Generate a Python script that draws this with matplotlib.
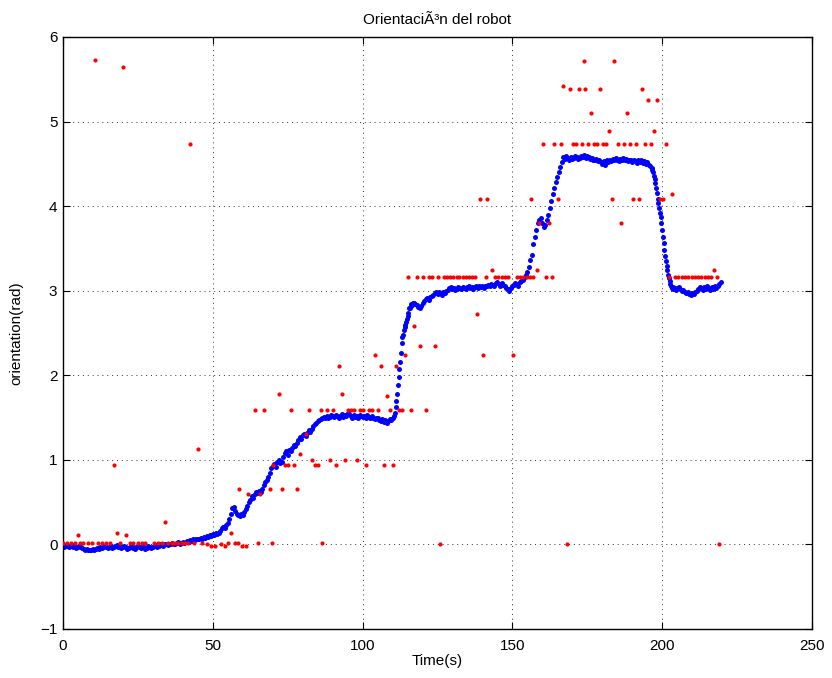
import numpy as np
import matplotlib
matplotlib.use("Agg")
import matplotlib.pyplot as plt

# ---- estimated orientation (filtered), sampled on a regular clock ----
t_est = np.concatenate([
    np.arange(0.0, 110.51, 0.5),
    np.arange(110.75, 117.01, 0.25),
    np.arange(117.5, 196.51, 0.5),
    np.arange(196.75, 204.01, 0.25),
    np.arange(204.5, 219.51, 0.5),
])
theta_est = [
    # 0 - 5
    -0.02, -0.03, -0.01, -0.02, -0.03, -0.02, -0.01, -0.03, -0.02, -0.04, -0.03,
    -0.02, -0.03, -0.04, -0.05, -0.06, -0.05, -0.07, -0.06, -0.07, -0.05,
    -0.06, -0.05, -0.04, -0.05, -0.03, -0.04, -0.03, -0.02, -0.03, -0.04,
    -0.03, -0.02, -0.04, -0.03, -0.02, -0.01, -0.03, -0.02, -0.04, -0.03,
    -0.02, -0.03, -0.05, -0.04, -0.03, -0.02, -0.04, -0.05, -0.03, -0.02,
    -0.03, -0.04, -0.02, -0.03, -0.05, -0.04, -0.02, -0.03, -0.04, -0.03,
    -0.02, -0.01, -0.03, -0.02, 0.00, -0.01, -0.02, 0.00, 0.01, -0.01,
    0.00, 0.01, 0.02, 0.00, 0.01, 0.02, 0.03, 0.01, 0.02, 0.03,
    0.02, 0.03, 0.04, 0.03, 0.05, 0.04, 0.06, 0.05, 0.07, 0.06,
    0.07, 0.08, 0.07, 0.09, 0.08, 0.10, 0.09, 0.11, 0.10, 0.12,
    0.11, 0.13, 0.12, 0.14, 0.16, 0.19, 0.21, 0.20, 0.23, 0.25,
    0.30, 0.36, 0.43, 0.44, 0.40, 0.36, 0.35, 0.34, 0.36, 0.35,
    0.38, 0.42, 0.45, 0.50, 0.53, 0.57, 0.55, 0.60, 0.62, 0.61,
    0.63, 0.62, 0.66, 0.70, 0.74, 0.76, 0.80, 0.85, 0.90, 0.93,
    0.95, 0.92, 0.97, 1.00, 0.96, 0.98, 1.03, 1.08, 1.10, 1.06,
    1.12, 1.10, 1.14, 1.18, 1.16, 1.20, 1.23, 1.27, 1.25, 1.29,
    1.30, 1.28, 1.32, 1.35, 1.33, 1.37, 1.40, 1.42, 1.44, 1.46,
    1.47, 1.48, 1.50, 1.51, 1.49, 1.52, 1.50, 1.51, 1.53, 1.52,
    1.51, 1.53, 1.52, 1.50, 1.52, 1.54, 1.51, 1.53, 1.52, 1.55,
    1.54, 1.52, 1.50, 1.53, 1.51, 1.52, 1.50, 1.53, 1.52, 1.51,
    1.52, 1.50, 1.53, 1.51, 1.49, 1.52, 1.50, 1.48, 1.50, 1.49,
    1.47, 1.46, 1.48, 1.45, 1.47, 1.44, 1.46, 1.48, 1.47, 1.49,
    1.52,
    # 110.75 - 117 (quarter-second steps)
    1.55, 1.62, 1.70, 1.78, 1.88, 1.98, 2.08, 2.16, 2.26, 2.38,
    2.45, 2.48, 2.53, 2.57, 2.60, 2.63, 2.66, 2.70, 2.74, 2.79,
    2.80, 2.82, 2.84, 2.83, 2.85, 2.86,
    # 117.5 - 196.5
    2.84, 2.83, 2.81, 2.80, 2.82, 2.85, 2.88, 2.90, 2.91, 2.89,
    2.92, 2.94, 2.95, 2.97, 2.98, 2.96, 2.99, 2.97, 2.95, 2.98,
    2.97, 3.00, 3.01, 3.03, 3.04, 3.02, 3.03, 3.01, 3.02, 3.04,
    3.03, 3.02, 3.04, 3.03, 3.02, 3.04, 3.05, 3.03, 3.04, 3.02,
    3.04, 3.05, 3.03, 3.06, 3.04, 3.05, 3.03, 3.06, 3.05, 3.07,
    3.06, 3.08, 3.07, 3.05, 3.09, 3.10, 3.08, 3.06, 3.09, 3.07,
    3.05, 3.03, 3.02, 3.00, 3.03, 3.05, 3.07, 3.09, 3.08, 3.06,
    3.10, 3.12, 3.13, 3.15, 3.18, 3.22, 3.28, 3.36, 3.42, 3.55,
    3.64, 3.72, 3.80, 3.84, 3.86, 3.80, 3.75, 3.78, 3.84, 3.90,
    3.98, 4.06, 4.14, 4.22, 4.28, 4.35, 4.40, 4.46, 4.52, 4.58,
    4.56, 4.59, 4.57, 4.55, 4.58, 4.56, 4.57, 4.59, 4.58, 4.56,
    4.57, 4.59, 4.58, 4.60, 4.57, 4.59, 4.58, 4.56, 4.57, 4.55,
    4.54, 4.56, 4.53, 4.55, 4.52, 4.50, 4.53, 4.49, 4.54, 4.52,
    4.55, 4.53, 4.56, 4.54, 4.57, 4.55, 4.53, 4.56, 4.54, 4.57,
    4.55, 4.56, 4.53, 4.55, 4.54, 4.52, 4.55, 4.53, 4.51, 4.54,
    4.52, 4.55, 4.51, 4.53, 4.50, 4.52, 4.49, 4.47, 4.45,
    # 196.75 - 204 (quarter-second steps)
    4.43, 4.40, 4.36, 4.32, 4.27, 4.22, 4.15, 4.09, 4.04, 3.98,
    3.92, 3.87, 3.80, 3.72, 3.64, 3.56, 3.48, 3.41, 3.35, 3.29,
    3.24, 3.19, 3.15, 3.12, 3.08, 3.05, 3.03, 3.04, 3.02, 3.03,
    # 204.5 - 219.5
    3.01, 3.03, 3.04, 3.02, 3.00, 3.01, 2.99, 2.97, 2.98, 2.96,
    2.95, 2.97, 2.96, 2.98, 3.00, 3.02, 3.04, 3.03, 3.01, 3.04,
    3.02, 3.05, 3.03, 3.01, 3.04, 3.02, 3.05, 3.03, 3.06, 3.08, 3.10,
]

# ---- raw orientation measurements ----
t_meas = [
    0.0, 1.2, 2.7, 4.0, 5.7, 6.8, 8.5, 9.8, 11.8, 12.9, 14.2, 15.7, 19.0,
    22.4, 23.5, 24.9, 26.3, 27.4, 30.5, 31.8, 32.9, 35.2, 36.3, 37.4, 38.5,
    39.6, 40.7, 41.8, 43.8, 46.3, 48.0, 49.4, 50.9, 52.7, 54.1, 55.2, 57.4,
    58.3, 59.9, 61.0, 65.0, 69.8, 86.5,
    4.9, 10.7, 17.0, 17.9, 20.0, 20.9, 34.0, 42.4, 45.0, 56.0, 58.9, 61.9,
    64.1, 65.8, 67.1, 69.1, 70.2, 72.1, 73.0, 74.1, 75.2, 76.1, 77.1, 78.0,
    79.1, 81.1, 82.1, 83.0, 84.0, 85.0, 86.1, 88.0, 89.1, 90.0, 91.1, 92.1,
    93.0, 94.1, 95.0, 96.1, 97.1, 98.0, 99.1, 100.2, 101.1, 102.1, 103.1,
    104.1, 105.1, 106.0, 107.1, 108.1, 109.1, 110.2, 111.1, 112.1, 113.2,
    114.1, 115.0, 116.0, 117.2, 118.0, 119.2, 120.1, 121.2, 122.3, 123.1,
    124.2, 125.0, 125.8, 127.2, 128.1, 129.2, 130.3, 131.4, 132.3, 133.4,
    134.5, 135.5, 136.5, 137.4, 138.1, 139.2, 140.1, 141.2, 141.5, 143.1,
    144.2, 145.3, 146.4, 147.5, 148.6, 150.1, 151.4, 152.5, 153.6, 154.8,
    155.9, 156.1, 157.0, 158.1, 159.0, 160.1, 161.2, 162.3, 163.1, 164.0,
    165.3, 166.2, 167.0, 168.2, 169.2, 170.1, 171.2, 172.1, 173.1, 173.9,
    174.2, 175.1, 176.1, 177.2, 178.1, 179.2, 180.3, 181.2, 182.2, 183.1,
    184.0, 185.1, 186.1, 187.2, 188.2, 189.3, 190.2, 191.3, 192.1, 193.3,
    194.2, 195.2, 196.2, 197.2, 198.2, 199.3, 200.2, 201.3, 202.4, 203.2,
    204.3, 205.4, 206.5, 207.6, 208.7, 209.8, 210.9, 212.0, 213.1, 214.2,
    215.3, 216.4, 217.3, 218.2, 219.0,
]
theta_meas = [
    0.02, 0.02, 0.02, 0.02, 0.02, 0.02, 0.02, 0.02, 0.02, 0.02, 0.02, 0.02, 0.02,
    0.02, 0.02, 0.02, 0.02, 0.02, 0.02, 0.02, 0.02, 0.02, 0.02, 0.02, 0.02,
    0.02, 0.02, 0.02, 0.02, 0.02, 0.00, -0.02, -0.02, 0.00, -0.02, 0.02, 0.02,
    0.02, -0.02, -0.02, 0.02, 0.02, 0.02,
    0.11, 5.73, 0.94, 0.13, 5.65, 0.11, 0.27, 4.73, 1.13, 0.13, 0.66, 0.60,
    1.59, 0.60, 1.59, 0.66, 0.94, 1.78, 0.66, 0.94, 0.94, 1.59, 0.94, 0.66,
    1.07, 1.31, 1.59, 1.00, 0.94, 0.94, 1.59, 1.59, 1.00, 1.59, 0.94, 2.11,
    1.78, 1.00, 1.59, 1.59, 1.59, 1.00, 1.59, 1.59, 0.94, 1.59, 1.59,
    2.24, 1.59, 2.11, 0.94, 1.75, 1.59, 0.94, 2.11, 1.59, 1.59,
    2.24, 3.16, 1.59, 2.58, 3.16, 2.35, 3.16, 1.59, 3.16, 3.16,
    2.35, 3.16, 0.00, 3.16, 3.16, 3.16, 3.16, 3.16, 3.16, 3.16,
    3.16, 3.16, 3.16, 3.16, 2.72, 4.08, 2.24, 3.16, 4.08, 3.25,
    3.16, 3.16, 3.16, 3.16, 3.16, 2.24, 3.16, 3.16, 3.16, 3.16,
    3.16, 4.08, 3.16, 3.25, 3.80, 4.73, 3.16, 3.80, 3.16, 4.73,
    4.08, 4.73, 5.42, 0.00, 5.38, 4.73, 4.73, 5.38, 4.73, 5.72,
    5.38, 4.73, 5.10, 4.73, 4.73, 5.38, 4.73, 4.73, 4.89, 4.08,
    5.72, 4.73, 3.80, 4.73, 5.10, 4.73, 4.08, 4.73, 4.08, 5.38,
    4.73, 5.25, 4.73, 4.89, 5.25, 4.08, 4.08, 4.73, 3.16, 4.14,
    3.16, 3.16, 3.16, 3.16, 3.16, 3.16, 3.16, 3.16, 3.16, 3.16,
    3.16, 3.16, 3.25, 3.16, 0.00,
]

x_ticks = [0, 50, 100, 150, 200, 250]
y_ticks = [-1, 0, 1, 2, 3, 4, 5, 6]

plt.rcParams['font.family'] = ['Liberation Sans', 'DejaVu Sans']
plt.rcParams['axes.unicode_minus'] = True

fig = plt.figure(figsize=(8.32, 6.78), dpi=100)
ax = fig.add_axes([63 / 832, 49 / 678, 749 / 832, 592 / 678])

ax.plot(t_meas, theta_meas, linestyle='none', marker='o', markersize=3.0,
        markerfacecolor='#ff0000', markeredgecolor='none', zorder=3)
ax.plot(t_est, theta_est, linestyle='none', marker='o', markersize=3.6,
        markerfacecolor='#0000ff', markeredgecolor='none', zorder=2)

ax.set_xlim(0, 250)
ax.set_ylim(-1, 6)
ax.set_xticks(x_ticks)
ax.set_yticks(y_ticks)
ax.set_xticklabels([str(v) for v in x_ticks])
ax.set_yticklabels([str(v).replace('-', '\u2212') for v in y_ticks])

ax.grid(True, linestyle=(0, (1, 4)), color='#333333', linewidth=0.7)
ax.tick_params(direction='in', top=True, right=True, length=5, width=0.8,
               labelsize=11, colors='black')
ax.tick_params(axis='x', pad=7)
ax.tick_params(axis='y', pad=4)
for s in ax.spines.values():
    s.set_linewidth(1.0)

ax.set_title('OrientaciÃ³n del robot', fontsize=11, pad=9)
ax.set_xlabel('Time(s)', fontsize=11, labelpad=1)
ax.set_ylabel('orientation(rad)', fontsize=11, labelpad=12)

fig.savefig('out.png', dpi=100)
